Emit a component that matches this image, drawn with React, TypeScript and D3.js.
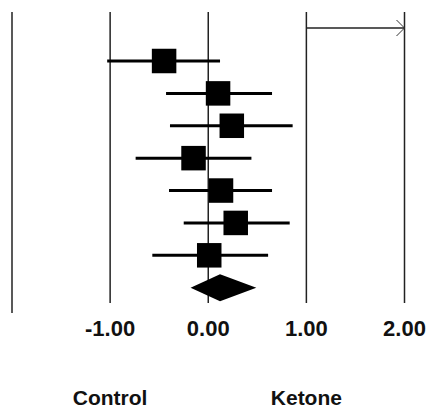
import React from "react";
import * as d3 from "d3";

const studies = ["S1", "S2", "S3", "S4", "S5", "S6", "S7"];
const estimates = [-0.45, 0.1, 0.24, -0.15, 0.13, 0.28, 0.01];
const lowers = [-1.03, -0.43, -0.39, -0.74, -0.4, -0.25, -0.57];
const uppers = [0.12, 0.65, 0.86, 0.44, 0.65, 0.83, 0.61];
const summary = { est: 0.12, lo: -0.18, hi: 0.49 };
const ticks = [-2, -1, 0, 1, 2];
const tickLabels = ["", "-1.00", "0.00", "1.00", "2.00"];
const favours = [
  { label: "Control", at: -1 },
  { label: "Ketone", at: 1 },
];

export default function App() {
  const W = 430;
  const H = 411;
  const x = d3.scaleLinear().domain([-2, 2]).range([12, 404.5]);
  const rows = [...studies, "Summary"];
  const y = d3.scalePoint<string>().domain(rows).range([61, 287.7]);
  const sq = 24.5;
  const sy = y("Summary") as number;
  const diamond = d3.line<[number, number]>()([
    [x(summary.lo), sy],
    [x(summary.est), sy - 13.5],
    [x(summary.hi), sy],
    [x(summary.est), sy + 13.5],
  ]) as string;
  const font = "'Liberation Sans', Arial, sans-serif";
  return (
    <svg
      width={W}
      height={H}
      style={{ position: "absolute", left: 0, top: 0, background: "#fff" }}
    >
      {ticks.map((t, i) => (
        <line
          key={"v" + i}
          x1={x(t)}
          x2={x(t)}
          y1={12}
          y2={i === 0 ? 313 : 303}
          stroke="#222"
          strokeWidth={1.5}
        />
      ))}
      <line x1={x(1)} x2={x(2)} y1={28} y2={28} stroke="#222" strokeWidth={1.3} />
      <path
        d={`M${x(2) - 8},${20} L${x(2)},${28} L${x(2) - 8},${36}`}
        fill="none"
        stroke="#333"
        strokeWidth={1}
      />
      {studies.map((s, i) => {
        const cy = y(s) as number;
        return (
          <g key={s}>
            <line
              x1={x(lowers[i])}
              x2={x(uppers[i])}
              y1={cy}
              y2={cy}
              stroke="#000"
              strokeWidth={3}
            />
            <rect
              x={x(estimates[i]) - sq / 2}
              y={cy - sq / 2}
              width={sq}
              height={sq}
              fill="#000"
            />
          </g>
        );
      })}
      <path d={diamond} fill="#000" />
      {ticks.map((t, i) => (
        <text
          key={"t" + i}
          x={x(t)}
          y={336}
          textAnchor="middle"
          fontFamily={font}
          fontWeight="bold"
          fontSize={22}
          fill="#111"
        >
          {tickLabels[i]}
        </text>
      ))}
      {favours.map((f) => (
        <text
          key={f.label}
          x={x(f.at)}
          y={405}
          textAnchor="middle"
          fontFamily={font}
          fontWeight="bold"
          fontSize={21}
          fill="#111"
        >
          {f.label}
        </text>
      ))}
    </svg>
  );
}
